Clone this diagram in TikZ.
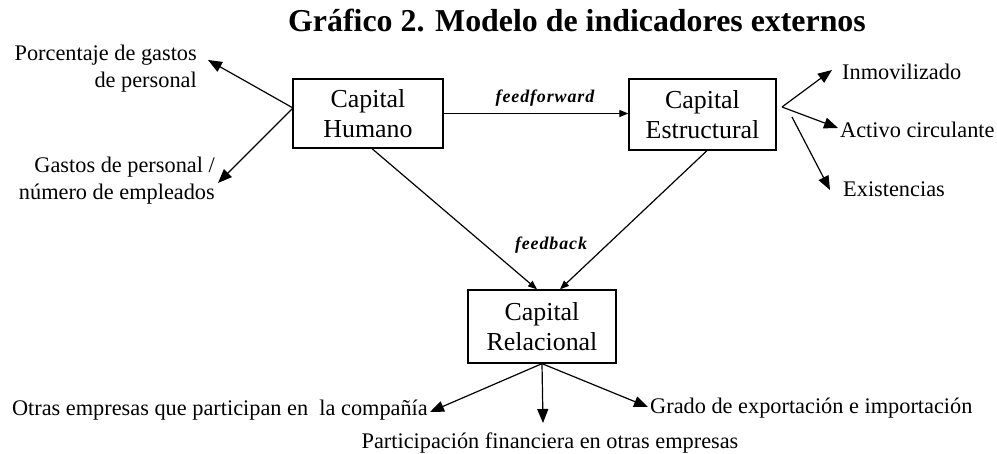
\documentclass[tikz,border=0pt]{standalone}
\usepackage{fontspec}
\setmainfont{Liberation Serif}
\usetikzlibrary{arrows.meta}
\begin{document}
\begin{tikzpicture}[x=1bp,y=-1bp,
  box/.style={draw,line width=1.3bp,inner sep=0,align=center,font=\fontsize{26}{29.5}\selectfont},
  lbl/.style={inner sep=0,font=\fontsize{22.4}{27}\selectfont},
  elbl/.style={inner sep=0,anchor=base,font=\fontsize{18}{20}\selectfont\bfseries\itshape\addfontfeatures{LetterSpace=5}},
  conn/.style={line width=1.2bp,-{Triangle[length=14bp,width=11bp]}},
  sconn/.style={line width=1.2bp,-{Triangle[length=9bp,width=7bp]}},
]
\useasboundingbox (0,0) rectangle (997,454);

\node[font=\fontsize{32}{36}\selectfont\bfseries,anchor=base,inner sep=0] (title) at (577,32) {Gráfico 2. Modelo de indicadores externos};

\node[box,minimum width=150bp,minimum height=69bp] (hum) at (368,113.5) {Capital\\Humano};
\node[box,minimum width=147bp,minimum height=71bp] (est) at (702.5,114.5) {Capital\\Estructural};
\node[box,minimum width=148bp,minimum height=73bp] (rel) at (542,326.5) {Capital\\Relacional};

\node[lbl,align=right,anchor=north east] (porc) at (197,45) {Porcentaje de gastos\\de personal};
\node[lbl,align=right,anchor=north east] (gast) at (215,157) {Gastos de personal /\\número de empleados};

\node[lbl,anchor=base west] (inm) at (842,80) {Inmovilizado};
\node[lbl,anchor=base west] (act) at (840,138) {Activo circulante};
\node[lbl,anchor=base west] (exi) at (843,197) {Existencias};

\node[lbl,anchor=base east] (otr) at (428,415) {Otras empresas que participan en\ \ la compañía};
\node[lbl,anchor=base] (par) at (550,448) {Participación financiera en otras empresas};
\node[lbl,anchor=base west] (gra) at (650,413) {Grado de exportación e importación};

\node[elbl] (ff) at (545,103) {feedforward};
\node[elbl] (fb) at (551,250) {feedback};

\coordinate (hw) at (293,108);
\coordinate (t1) at (208,60);
\coordinate (t2) at (218,183);
\coordinate (e1) at (782,107);
\coordinate (e2) at (792,117);
\coordinate (t3) at (832,70);
\coordinate (t4) at (838,128);
\coordinate (t5) at (830,190);
\coordinate (t6) at (430,412);
\coordinate (t7) at (543,423);
\coordinate (t8) at (648,407);

\draw[sconn] (hum.east) -- (hum.east -| est.west);
\draw[sconn] ([xshift=4bp]hum.south) -- ([xshift=-5bp]rel.north);
\draw[sconn] ([xshift=4.5bp]est.south) -- ([xshift=18bp]rel.north);

\draw[conn] (hw) -- (t1);
\draw[conn] (hw) -- (t2);
\draw[conn] (e1) -- (t3);
\draw[conn] (e1) -- (t4);
\draw[conn] (e2) -- (t5);
\draw[conn] (rel.south) -- (t6);
\draw[conn] (rel.south) -- (t7);
\draw[conn] (rel.south) -- (t8);
\end{tikzpicture}
\end{document}
